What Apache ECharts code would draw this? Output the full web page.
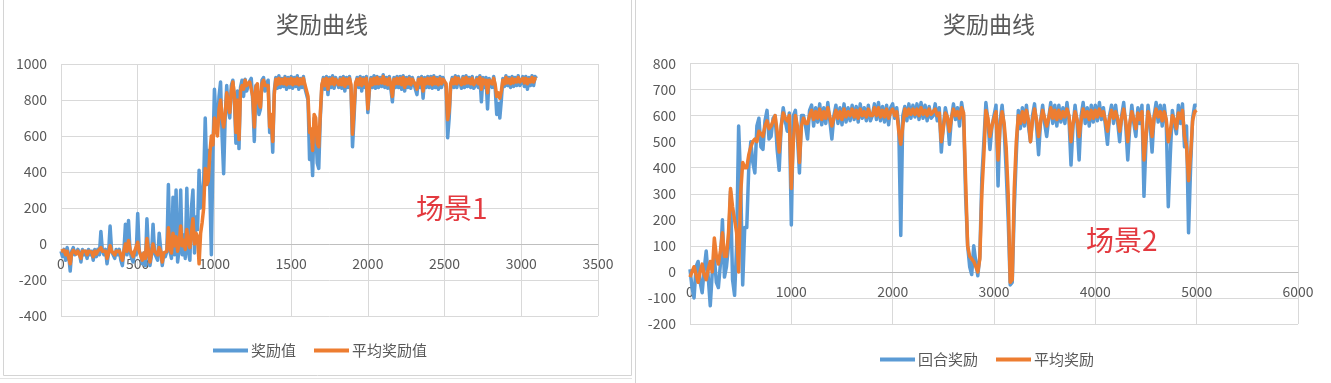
<!DOCTYPE html>
<html>
<head>
<meta charset="utf-8">
<script src="https://cdn.jsdelivr.net/npm/echarts@6.0.0/dist/echarts.min.js"></script>
<style>
html,body{margin:0;padding:0;background:#fff;}
#c{width:1331px;height:383px;}
</style>
</head>
<body>
<div id="c"></div>
<script>
// ---------- Scene 1 (left chart) ----------
const TITLE = '奖励曲线';
const L_NAMES = ['奖励值', '平均奖励值'];
const L_STEP = 10; // episodes between samples
const L_X_TICKS = [0, 500, 1000, 1500, 2000, 2500, 3000, 3500];
const L_Y_TICKS = [-400, -200, 0, 200, 400, 600, 800, 1000];
const L_REWARD = [
  -40,-70,-30,-90,-20,-60,-150,-40,-20,-60,
  -70,-30,-50,-100,-30,-60,-40,-80,-30,-60,
  -40,-90,-30,-70,-30,-60,70,-40,-60,-30,
  -110,-50,100,-40,-50,-80,-30,-60,-30,-90,
  -120,-40,110,-60,130,-40,-80,-100,-40,-60,
  170,-40,-60,-110,-50,-120,140,-40,-120,-60,
  110,-50,-60,-90,60,-30,-120,-50,-70,-40,
  330,-40,-80,260,-60,300,-100,-30,300,-60,
  50,-80,310,-40,-90,200,300,-50,150,80,
  410,200,250,350,700,400,520,300,-60,500,
  860,700,650,820,900,600,390,700,880,750,
  700,880,910,800,560,850,530,870,910,820,
  915,850,840,905,920,790,570,880,890,720,
  750,910,925,850,890,910,620,700,510,850,
  925,865,935,870,920,875,930,860,925,870,
  930,865,925,875,935,860,920,870,930,865,
  860,800,470,550,380,700,640,450,420,700,
  870,925,860,930,830,925,870,935,865,925,
  935,870,925,865,930,850,925,870,930,865,
  540,700,885,925,870,930,850,925,870,930,
  730,850,925,870,935,865,930,870,925,875,
  940,870,925,865,930,860,790,925,870,930,
  870,930,860,935,850,925,870,930,865,925,
  925,860,830,925,870,930,810,925,870,930,
  870,930,865,935,870,925,860,930,870,925,
  930,870,590,700,880,925,870,935,870,930,
  925,865,930,870,935,875,925,870,930,865,
  880,925,870,935,790,925,870,925,750,920,
  925,870,930,865,720,780,700,800,920,875,
  935,880,925,870,930,875,925,880,935,880,
  895,930,875,930,860,925,880,935,880,930,
  920
];
const L_AVG = [
  -40,-50,-35,-60,-40,-50,-110,-50,-35,-45,
  -55,-40,-45,-80,-40,-50,-40,-60,-40,-50,
  -45,-70,-40,-55,-40,-50,-20,-40,-50,-40,
  -80,-50,-10,-40,-50,-60,-40,-50,-40,-60,
  -90,-40,0,-40,20,-30,-50,-70,-40,-50,
  10,-40,-50,-90,-50,-80,30,-40,-100,-50,
  0,-40,-40,-60,-20,-40,-100,-50,-60,-40,
  90,-20,-50,60,-10,40,-40,0,100,-10,
  20,-30,80,10,-20,60,140,0,60,40,
  -110,60,120,200,420,330,350,500,600,550,
  700,650,600,750,800,700,650,720,840,780,
  730,850,900,830,620,800,580,850,880,860,
  910,880,870,900,900,820,650,870,890,780,
  760,890,910,880,890,880,650,720,570,830,
  915,885,920,890,915,890,920,885,915,890,
  920,885,915,890,920,885,915,890,920,885,
  880,820,620,640,520,720,700,560,540,720,
  885,915,880,920,860,915,890,920,885,915,
  920,885,915,885,920,875,915,890,920,885,
  610,750,895,915,885,920,880,915,890,920,
  750,870,915,885,920,890,925,890,915,895,
  930,890,915,885,920,885,820,915,890,920,
  890,920,885,925,870,915,890,920,885,915,
  915,885,860,915,890,920,850,915,890,920,
  890,920,885,925,890,915,885,920,890,915,
  920,890,690,740,890,915,890,925,890,920,
  915,885,920,890,925,895,915,890,920,885,
  895,915,890,925,860,915,890,910,840,910,
  915,890,920,885,820,840,810,850,910,890,
  925,895,915,890,920,895,915,900,925,900,
  905,920,895,920,890,915,900,925,900,920,
  920
];

// ---------- Scene 2 (right chart) ----------
const R_NAMES = ['回合奖励', '平均奖励'];
const R_STEP = 20;
const R_X_TICKS = [0, 1000, 2000, 3000, 4000, 5000, 6000];
const R_Y_TICKS = [-200, -100, 0, 100, 200, 300, 400, 500, 600, 700, 800];
const R_REWARD = [
  10,-60,-100,20,40,-40,-80,10,80,-20,
  -130,0,60,-40,-60,30,200,-20,20,100,
  310,-30,-90,100,560,350,-50,170,170,400,
  500,420,380,560,590,480,470,580,620,510,
  520,590,600,470,390,560,630,580,540,610,
  180,600,620,520,380,600,600,560,510,620,
  640,560,630,575,645,565,630,570,650,580,
  510,600,640,570,630,565,645,575,630,580,
  640,585,635,575,645,590,630,580,640,580,
  600,645,585,650,580,635,575,640,565,630,
  645,590,630,560,140,600,635,580,645,590,
  640,595,645,585,650,590,640,580,635,590,
  600,645,580,630,460,560,630,590,490,590,
  645,585,630,560,650,600,290,100,20,-10,
  100,40,-15,60,360,500,650,580,470,560,
  600,640,330,580,640,550,390,200,-50,-40,
  240,450,620,550,630,560,640,560,500,600,
  645,560,450,580,640,570,520,590,650,570,
  640,560,640,575,630,570,650,585,410,560,
  640,570,430,600,650,570,630,560,640,575,
  640,580,650,585,630,560,490,600,640,570,
  640,575,500,600,650,560,430,560,640,570,
  520,630,570,640,290,500,640,570,460,600,
  650,575,640,560,640,570,250,450,620,570,
  530,640,570,645,480,560,150,400,590,640,
  640
];
const R_AVG = [
  -20,0,20,-10,-40,0,30,-10,-30,10,
  40,0,130,60,30,80,150,60,60,150,
  320,250,200,150,0,300,420,400,400,450,
  480,500,510,500,540,530,520,560,580,550,
  560,580,600,540,460,560,610,590,580,600,
  320,500,600,560,420,560,590,570,570,600,
  620,585,615,590,625,585,615,590,630,595,
  560,590,620,590,615,585,625,595,615,600,
  625,595,620,590,625,600,615,595,625,600,
  600,630,600,630,595,620,595,625,590,615,
  625,600,615,540,490,560,625,600,625,605,
  625,605,625,600,630,605,620,600,625,605,
  615,625,600,610,500,550,610,595,540,590,
  625,600,615,590,630,610,350,100,60,50,
  40,20,0,50,300,450,620,590,520,560,
  590,615,430,560,615,570,480,300,-40,-30,
  320,500,600,570,615,575,620,585,500,580,
  625,585,520,575,620,590,560,590,630,590,
  620,585,620,590,615,595,625,600,500,570,
  615,585,520,580,625,595,615,585,620,590,
  620,595,625,600,615,580,540,590,620,590,
  615,590,540,590,625,580,500,570,615,585,
  550,610,585,615,430,520,615,590,520,590,
  625,595,615,580,615,585,500,540,600,585,
  550,610,590,620,520,480,350,450,580,615,
  620
];

const BLUE = '#5b9bd5', ORANGE = '#ed7d31';
const GRAY_TXT = '#595959', GRID = '#d9d9d9', AXIS = '#bfbfbf';
const FONT = '"Noto Sans CJK SC", "Noto Sans", sans-serif';

function pairs(vals, step) { return vals.map((v, i) => [i * step, v]); }

function xAxisCfg(idx, ticks, off) {
  return {
    type: 'value', gridIndex: idx, position: 'bottom', offset: off,
    min: ticks[0], max: ticks[ticks.length - 1], interval: ticks[1] - ticks[0],
    axisLine: { show: true, onZero: false, lineStyle: { color: AXIS, width: 1 } },
    axisTick: { show: false },
    axisLabel: { color: GRAY_TXT, fontSize: 14, fontFamily: FONT, margin: 13,
                 formatter: v => String(v) },
    splitLine: { show: true, lineStyle: { color: GRID, width: 1 } }
  };
}
function yAxisCfg(idx, ticks) {
  return {
    type: 'value', gridIndex: idx,
    min: ticks[0], max: ticks[ticks.length - 1], interval: ticks[1] - ticks[0],
    axisLine: { show: false }, axisTick: { show: false },
    axisLabel: { color: GRAY_TXT, fontSize: 14, fontFamily: FONT, margin: 14,
                 formatter: v => String(v) },
    splitLine: { show: true, lineStyle: { color: GRID, width: 1 } }
  };
}
function lineSeries(name, color, data, idx) {
  return {
    type: 'line', name: name, xAxisIndex: idx, yAxisIndex: idx,
    data: data, showSymbol: false, symbol: 'none',
    lineStyle: { color: color, width: 3.5, join: 'round' },
    itemStyle: { color: color }, animation: false
  };
}
const legendBase = {
  icon: 'rect', itemWidth: 35, itemHeight: 4, itemGap: 18,
  textStyle: { color: GRAY_TXT, fontSize: 15, fontFamily: FONT, padding: [0, 0, 0, -2] },
  orient: 'horizontal'
};

const chart = echarts.init(document.getElementById('c'), null, { renderer: 'canvas' });
chart.setOption({
  backgroundColor: '#ffffff',
  animation: false,
  title: [
    { text: TITLE, left: 317, top: 8, textAlign: 'center',
      textStyle: { color: GRAY_TXT, fontSize: 23, fontWeight: 'normal', fontFamily: FONT } },
    { text: TITLE, left: 984, top: 8, textAlign: 'center',
      textStyle: { color: GRAY_TXT, fontSize: 23, fontWeight: 'normal', fontFamily: FONT } }
  ],
  legend: [
    Object.assign({}, legendBase, { data: L_NAMES, left: 208, top: 338 }),
    Object.assign({}, legendBase, { data: R_NAMES, left: 875, top: 347 })
  ],
  grid: [
    { left: 61, top: 64, width: 537, height: 252, outerBoundsMode: 'none', containLabel: false },
    { left: 690, top: 63.5, width: 608, height: 260.5, outerBoundsMode: 'none', containLabel: false }
  ],
  xAxis: [xAxisCfg(0, L_X_TICKS, -72), xAxisCfg(1, R_X_TICKS, -52)],
  yAxis: [yAxisCfg(0, L_Y_TICKS), yAxisCfg(1, R_Y_TICKS)],
  series: [
    lineSeries(L_NAMES[0], BLUE, pairs(L_REWARD, L_STEP), 0),
    lineSeries(L_NAMES[1], ORANGE, pairs(L_AVG, L_STEP), 0),
    lineSeries(R_NAMES[0], BLUE, pairs(R_REWARD, R_STEP), 1),
    lineSeries(R_NAMES[1], ORANGE, pairs(R_AVG, R_STEP), 1)
  ],
  graphic: [
    { type: 'rect', shape: { x: 3.5, y: -2, width: 628, height: 377.5 },
      style: { fill: 'none', stroke: '#d4d4d4', lineWidth: 1 }, silent: true, z: -1 },
    { type: 'line', shape: { x1: 635.5, y1: 0, x2: 635.5, y2: 383 },
      style: { stroke: '#d4d4d4', lineWidth: 1 }, silent: true, z: -1 },
    { type: 'line', shape: { x1: 0, y1: 378.5, x2: 632, y2: 378.5 },
      style: { stroke: '#e3e3e3', lineWidth: 1 }, silent: true, z: -1 },
    { type: 'text', left: 416, top: 194,
      style: { text: '场景1', fill: '#e3393f', font: '28px "Noto Sans CJK SC", sans-serif' }, z: 10 },
    { type: 'text', left: 1086, top: 226,
      style: { text: '场景2', fill: '#e3393f', font: '28px "Noto Sans CJK SC", sans-serif' }, z: 10 }
  ]
});
</script>
</body>
</html>
